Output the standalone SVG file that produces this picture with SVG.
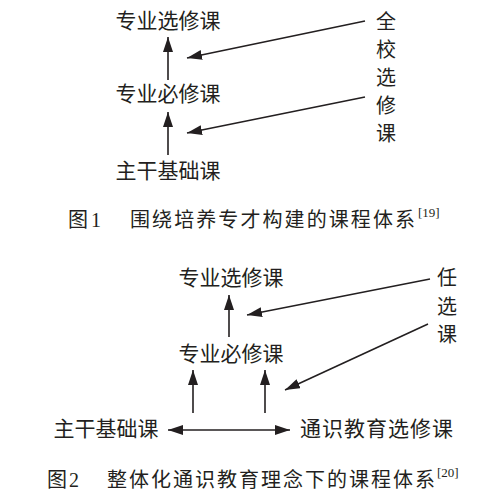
<svg xmlns="http://www.w3.org/2000/svg" width="500" height="501" viewBox="0 0 500 501">
<style>
.lbl{font-family:"Noto Sans CJK SC","Noto Sans",sans-serif;font-size:21px;fill:#231f20}
.vt{font-family:"Noto Sans CJK SC","Noto Sans",sans-serif;font-size:20px;fill:#231f20;text-anchor:middle}
.mid{text-anchor:middle}
.cap{font-family:"Noto Sans CJK SC","Noto Sans",sans-serif;font-size:20px;fill:#231f20}
.num{font-family:"Liberation Serif",serif;font-size:20px;fill:#231f20}
.sup{font-family:"Liberation Serif",serif;font-size:13px;fill:#231f20}
.ln{stroke:#231f20;stroke-width:1.6;fill:none;marker-end:url(#ah)}
</style>
<defs>
<marker id="ah" markerUnits="userSpaceOnUse" markerWidth="16" markerHeight="12" refX="15" refY="5" orient="auto-start-reverse">
<path d="M0,0 L15,5 L0,10 z" fill="#231f20"/>
</marker>
</defs>
<rect width="500" height="501" fill="#fff"/>
<g id="fig1">
<g id="f1-zyxx"><text class="lbl mid" x="168" y="28">专业选修课</text></g>
<g id="f1-zybx"><text class="lbl mid" x="168" y="101">专业必修课</text></g>
<g id="f1-zgjc"><text class="lbl mid" x="168" y="178">主干基础课</text></g>
<g id="f1-qxxx">
<text class="vt" x="386" y="29">全</text>
<text class="vt" x="386" y="57">校</text>
<text class="vt" x="386" y="85">选</text>
<text class="vt" x="386" y="113">修</text>
<text class="vt" x="386" y="141">课</text>
</g>
<g id="f1-connectors">
<line class="ln" x1="168" y1="80" x2="168" y2="37"/>
<line class="ln" x1="168" y1="155" x2="168" y2="112"/>
<line class="ln" x1="365" y1="21" x2="187" y2="58"/>
<line class="ln" x1="365" y1="97" x2="187" y2="133"/>
</g>
<g id="f1-caption">
<text class="cap" x="68" y="227">图</text>
<text class="num" x="91" y="227">1</text>
<text class="cap" x="130" y="227" textLength="285" lengthAdjust="spacing">围绕培养专才构建的课程体系</text>
<text class="sup" x="418" y="217">[19]</text>
</g>
</g>
<g id="fig2">
<g id="f2-zyxx"><text class="lbl mid" x="231" y="285">专业选修课</text></g>
<g id="f2-zybx"><text class="lbl mid" x="231" y="361">专业必修课</text></g>
<g id="f2-zgjc"><text class="lbl mid" x="106" y="436">主干基础课</text></g>
<g id="f2-tsjy"><text class="lbl" x="300" y="436" textLength="153" lengthAdjust="spacing">通识教育选修课</text></g>
<g id="f2-rxk">
<text class="vt" x="447" y="285">任</text>
<text class="vt" x="447" y="314">选</text>
<text class="vt" x="447" y="342">课</text>
</g>
<g id="f2-connectors">
<line class="ln" x1="229" y1="337" x2="229" y2="295"/>
<line class="ln" x1="193" y1="413" x2="193" y2="370"/>
<line class="ln" x1="265" y1="413" x2="265" y2="370"/>
<line class="ln" x1="168" y1="430" x2="290" y2="430" style="marker-start:url(#ah)"/>
<line class="ln" x1="430" y1="279" x2="247" y2="315"/>
<line class="ln" x1="428" y1="324" x2="285" y2="390"/>
</g>
<g id="f2-caption">
<text class="cap" x="47" y="487">图</text>
<text class="num" x="69" y="487">2</text>
<text class="cap" x="107" y="487" textLength="328" lengthAdjust="spacing">整体化通识教育理念下的课程体系</text>
<text class="sup" x="437" y="477">[20]</text>
</g>
</g>
</svg>
